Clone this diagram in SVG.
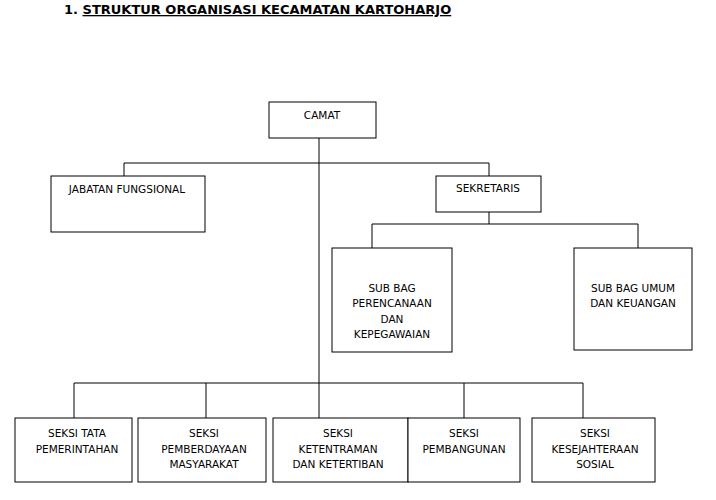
<svg xmlns="http://www.w3.org/2000/svg" width="716" height="500" viewBox="0 0 716 500">
<style>
.b{fill:#fff;stroke:#000;stroke-width:1}
.t{font-family:"DejaVu Sans",sans-serif;font-size:10.5px;text-anchor:middle;fill:#000}
.c{stroke:#000;stroke-width:1;fill:none}
</style>
<rect width="716" height="500" fill="#fff"/>
<text x="64" y="14" style="font-family:'DejaVu Sans',sans-serif;font-size:13px;font-weight:bold">1.  <tspan text-decoration="underline">STRUKTUR ORGANISASI KECAMATAN KARTOHARJO</tspan></text>
<g id="connectors">
<path class="c" d="M319 138V418M124 176V163H489V176M489 212V224M372 248V224H638V248M74 418V383H583V418M206 383V418M464 383V418"/>
</g>
<g id="camat"><rect class="b" x="269" y="102" width="107" height="36"/><text class="t" x="322" y="119">CAMAT</text></g>
<g id="jabatan"><rect class="b" x="51" y="176" width="154" height="56"/><text class="t" x="127" y="193">JABATAN FUNGSIONAL</text></g>
<g id="sekretaris"><rect class="b" x="436" y="176" width="105" height="36"/><text class="t" x="488" y="192">SEKRETARIS</text></g>
<g id="subbag1"><rect class="b" x="332" y="248" width="120" height="104"/><text class="t" x="392" y="292">SUB BAG</text><text class="t" x="392" y="307">PERENCANAAN</text><text class="t" x="392" y="323">DAN</text><text class="t" x="392" y="338">KEPEGAWAIAN</text></g>
<g id="subbag2"><rect class="b" x="574" y="248" width="118" height="102"/><text class="t" x="633" y="292">SUB BAG UMUM</text><text class="t" x="633" y="307">DAN KEUANGAN</text></g>
<g id="seksi1"><rect class="b" x="15" y="418" width="117" height="64"/><text class="t" x="77" y="437">SEKSI TATA</text><text class="t" x="77" y="453">PEMERINTAHAN</text></g>
<g id="seksi2"><rect class="b" x="138" y="418" width="128" height="64"/><text class="t" x="204" y="437">SEKSI</text><text class="t" x="204" y="453">PEMBERDAYAAN</text><text class="t" x="204" y="468">MASYARAKAT</text></g>
<g id="seksi3"><rect class="b" x="273" y="418" width="135" height="64"/><text class="t" x="338" y="437">SEKSI</text><text class="t" x="338" y="453">KETENTRAMAN</text><text class="t" x="338" y="468">DAN KETERTIBAN</text></g>
<g id="seksi4"><rect class="b" x="408" y="418" width="112" height="64"/><text class="t" x="464" y="437">SEKSI</text><text class="t" x="464" y="453">PEMBANGUNAN</text></g>
<g id="seksi5"><rect class="b" x="532" y="418" width="123" height="64"/><text class="t" x="595" y="437">SEKSI</text><text class="t" x="595" y="453">KESEJAHTERAAN</text><text class="t" x="595" y="468">SOSIAL</text></g>
</svg>
